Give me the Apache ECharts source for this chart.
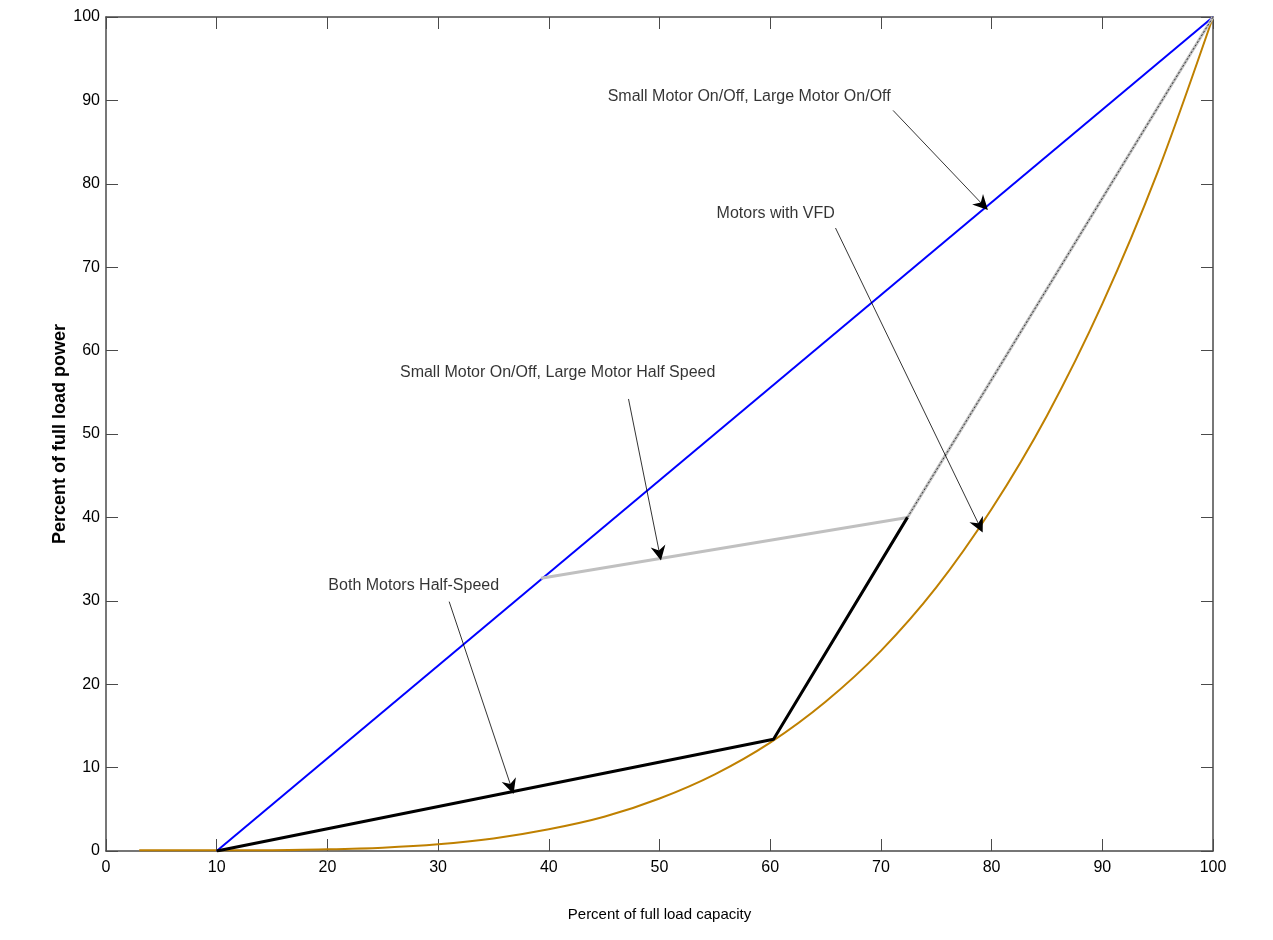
<!DOCTYPE html>
<html>
<head>
<meta charset="utf-8">
<script src="https://cdn.jsdelivr.net/npm/echarts@6/dist/echarts.min.js"></script>
<style>html,body{margin:0;padding:0;background:#fff;}#c{width:1273px;height:940px;}</style>
</head>
<body>
<div id="c"></div>
<script>
// ---- data ----
const xTicks = [0,10,20,30,40,50,60,70,80,90,100];
const yTicks = [0,10,20,30,40,50,60,70,80,90,100];
const onOffX = [10, 100];
const onOffY = [0, 100];
const bothHalfX = [10, 60.3, 72.4];
const bothHalfY = [0, 13.4, 40];
const bothHalfTailX = [72.4, 100];
const bothHalfTailY = [40, 100];
const smallOnLargeHalfX = [39.3, 72.4, 100];
const smallOnLargeHalfY = [32.7, 40, 100];
const vfdX = [3, 5, 10, 15, 20, 25, 30, 35, 40, 45, 50, 55, 60, 65, 70, 75, 80, 85, 90, 95, 100];
const vfdY = [0.1, 0.1, 0.1, 0.1, 0.2, 0.4, 0.8, 1.5, 2.6, 4.1, 6.3, 9.2, 13.0, 17.9, 24.0, 31.6, 41.0, 52.2, 65.6, 81.4, 100];
const labelTexts = ["Small Motor On/Off, Large Motor On/Off", "Motors with VFD", "Small Motor On/Off, Large Motor Half Speed", "Both Motors Half-Speed"];
const labelX = [58.1, 60.5, 40.8, 27.8];
const labelY = [90.4, 76.4, 57.4, 31.8];
const arrowFromX = [71.1, 65.9, 47.2, 31.0];
const arrowFromY = [88.8, 74.7, 54.2, 29.9];
const arrowToX = [79.2, 78.9, 50.0, 36.6];
const arrowToY = [77.5, 39.0, 35.7, 7.7];
const xName = "Percent of full load capacity";
const yName = "Percent of full load power";

const zip = (xs, ys) => xs.map((x, i) => [x, ys[i]]);
const FONT = "'Liberation Sans', Arial, sans-serif";
const axisCol = '#4a4a4a';

const chart = echarts.init(document.getElementById('c'), null, {renderer: 'canvas'});
const baseAxis = {
  type: 'value', min: 0, max: 100, interval: 10,
  axisLine: {show: true, onZero: false, lineStyle: {color: axisCol, width: 1.5}},
  axisTick: {show: true, inside: true, length: 12, lineStyle: {color: axisCol, width: 1}},
  splitLine: {show: false}
};
const option = {
  backgroundColor: '#fff',
  animation: false,
  grid: {left: 106, right: 60, top: 17, bottom: 89, containLabel: false},
  xAxis: [
    Object.assign({}, baseAxis, {
      position: 'bottom',
      axisLabel: {color: '#000', fontSize: 16, fontFamily: FONT, margin: 9,
        formatter: v => xTicks.includes(v) ? String(v) : ''},
      name: xName, nameLocation: 'middle', nameGap: 56, nameMoveOverlap: false,
      nameTextStyle: {color: '#000', fontSize: 15, fontFamily: FONT}
    }),
    Object.assign({}, baseAxis, {position: 'top', axisLabel: {show: false}})
  ],
  yAxis: [
    Object.assign({}, baseAxis, {
      position: 'left',
      axisLabel: {color: '#000', fontSize: 16, fontFamily: FONT, margin: 6,
        formatter: v => yTicks.includes(v) ? String(v) : ''},
      name: yName, nameLocation: 'middle', nameGap: 37, nameMoveOverlap: false,
      nameTextStyle: {color: '#000', fontSize: 18, fontWeight: 'bold', fontFamily: FONT}
    }),
    Object.assign({}, baseAxis, {position: 'right', axisLabel: {show: false}})
  ],
  series: [
    {type: 'line', name: 'VFD', data: zip(vfdX, vfdY), showSymbol: false, smooth: 0.3,
      lineStyle: {color: '#bf8000', width: 2}, z: 2},
    {type: 'line', name: 'On/Off', data: zip(onOffX, onOffY), showSymbol: false,
      lineStyle: {color: '#0000ff', width: 2}, z: 3},
    {type: 'line', name: 'Small On/Off Large Half', data: zip(smallOnLargeHalfX, smallOnLargeHalfY), showSymbol: false,
      lineStyle: {color: '#c0c0c0', width: 3}, z: 3},
    {type: 'line', name: 'Both Half tail', data: zip(bothHalfTailX, bothHalfTailY), showSymbol: false,
      lineStyle: {color: '#333', width: 1, type: [2, 2]}, z: 4},
    {type: 'line', name: 'Both Half', data: zip(bothHalfX, bothHalfY), showSymbol: false,
      lineStyle: {color: '#000', width: 3}, z: 4},
    {type: 'lines', coordinateSystem: 'cartesian2d', z: 6,
      symbol: ['none', 'path://M5,0 L10,16 L5,11 L0,16 Z'], symbolSize: [9, 15],
      lineStyle: {color: '#000', width: 0.8, opacity: 1},
      data: arrowFromX.map((x, i) => ({coords: [[x, arrowFromY[i]], [arrowToX[i], arrowToY[i]]]}))},
    {type: 'scatter', symbolSize: 0, z: 7,
      data: labelTexts.map((t, i) => ({name: t, value: [labelX[i], labelY[i]]})),
      label: {show: true, position: 'inside', formatter: '{b}', color: '#000', fontSize: 16, fontFamily: FONT}}
  ]
};
chart.setOption(option);
</script>
</body>
</html>
